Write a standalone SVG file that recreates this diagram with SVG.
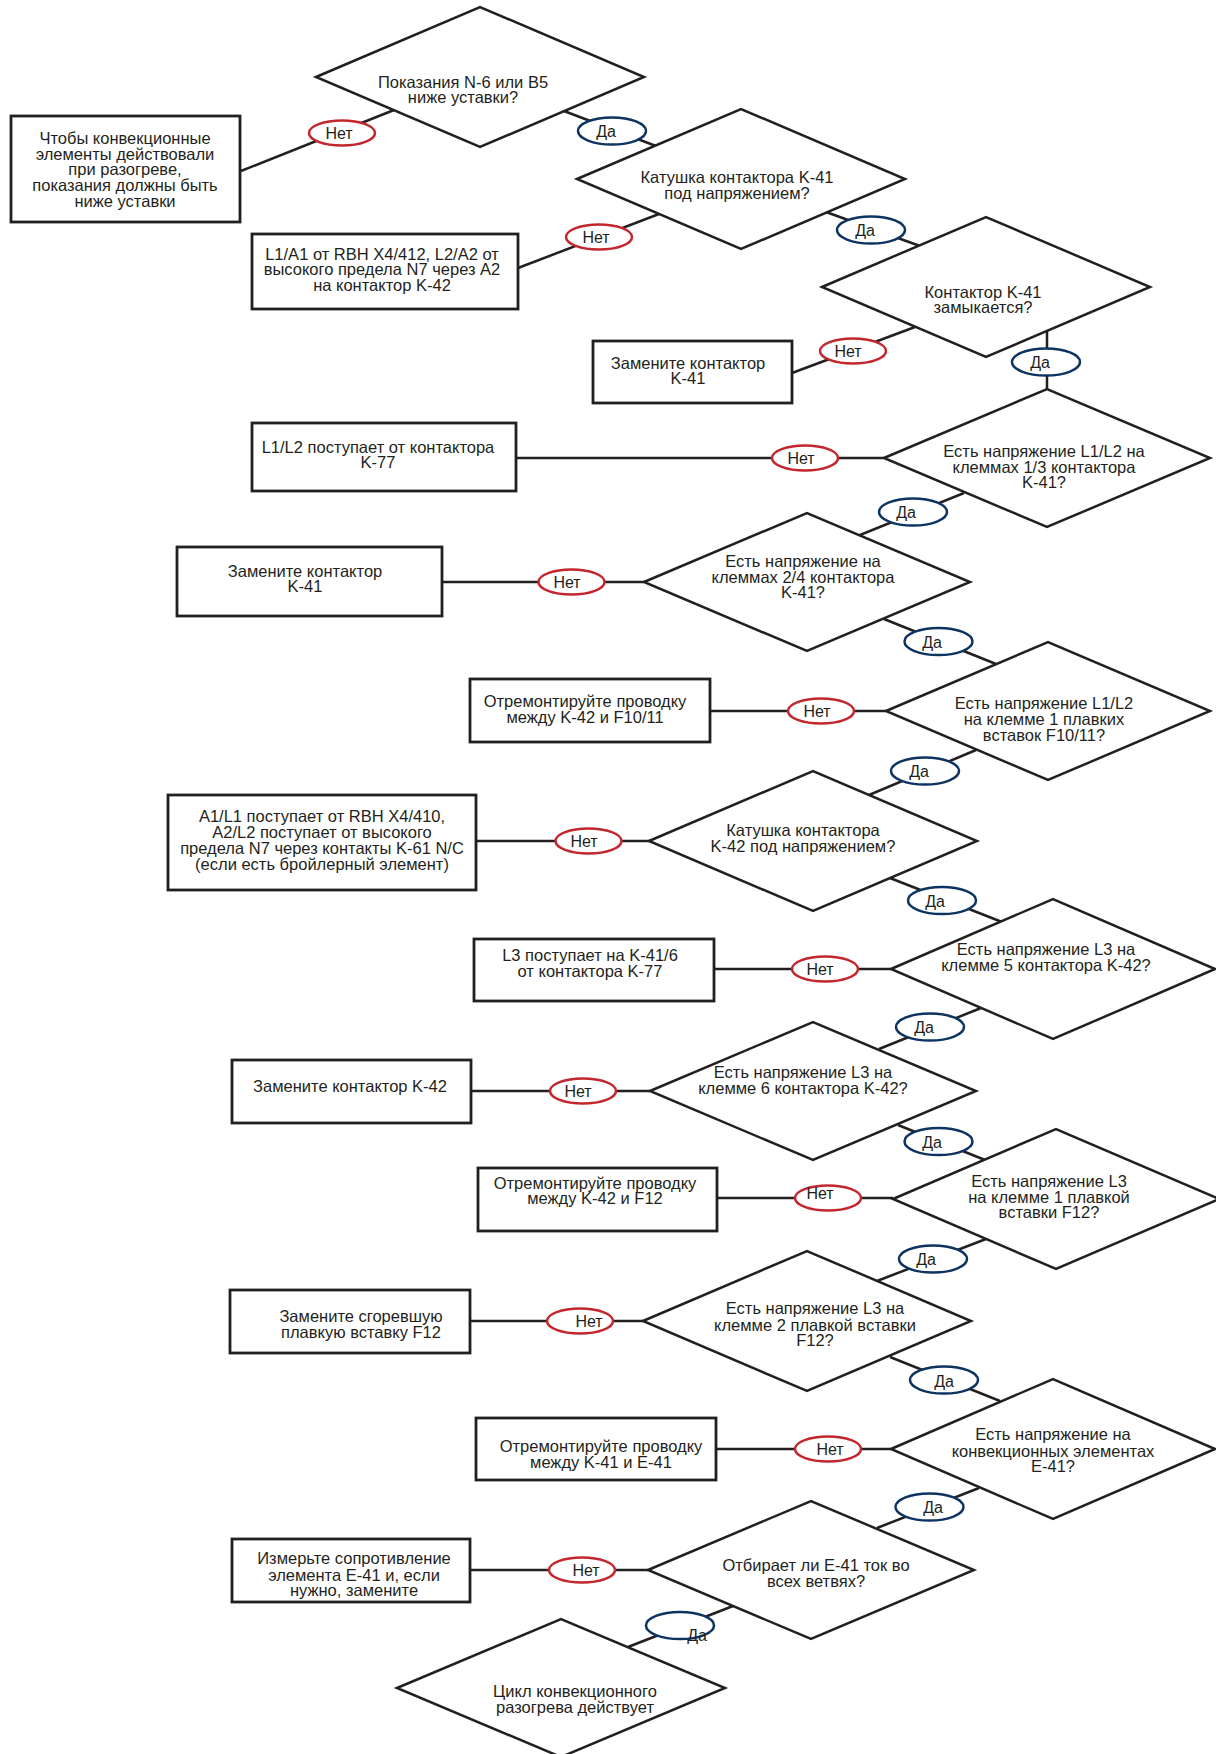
<svg xmlns="http://www.w3.org/2000/svg" width="1216" height="1754" viewBox="0 0 1216 1754">
<style>
.box{fill:#fff;stroke:#231f20;stroke-width:2.8}
.dia{fill:#fff;stroke:#231f20;stroke-width:2.5;stroke-linejoin:miter}
.ln{stroke:#231f20;stroke-width:2.5;fill:none}
.no{fill:#fff;stroke:#c4262e;stroke-width:2.5}
.yes{fill:#fff;stroke:#0d3461;stroke-width:2.5}
text{font-family:"Liberation Sans",Arial,sans-serif;font-size:16.5px;fill:#231f20;text-anchor:middle}
#labels text{font-size:16px}
</style>
<rect width="1216" height="1754" fill="#fff"/>
<g id="connectors">
<line class="ln" x1="241" y1="171" x2="394" y2="110"/>
<line class="ln" x1="564" y1="111" x2="656" y2="146"/>
<line class="ln" x1="659" y1="214" x2="518" y2="268"/>
<line class="ln" x1="826" y1="212" x2="920" y2="246"/>
<line class="ln" x1="915" y1="327" x2="792" y2="373"/>
<line class="ln" x1="1047" y1="331" x2="1047" y2="389"/>
<line class="ln" x1="516" y1="458" x2="884" y2="458"/>
<line class="ln" x1="964" y1="493" x2="860" y2="535"/>
<line class="ln" x1="442" y1="582" x2="644" y2="582"/>
<line class="ln" x1="884" y1="619" x2="996" y2="664"/>
<line class="ln" x1="710" y1="711" x2="886" y2="711"/>
<line class="ln" x1="976" y1="750" x2="869" y2="795"/>
<line class="ln" x1="476" y1="841" x2="650" y2="841"/>
<line class="ln" x1="890" y1="878" x2="1002" y2="922"/>
<line class="ln" x1="714" y1="969" x2="891" y2="969"/>
<line class="ln" x1="981" y1="1008" x2="879" y2="1049"/>
<line class="ln" x1="471" y1="1091" x2="650" y2="1091"/>
<line class="ln" x1="898" y1="1125" x2="985" y2="1160"/>
<line class="ln" x1="717" y1="1198" x2="893" y2="1198"/>
<line class="ln" x1="986" y1="1239" x2="877" y2="1281"/>
<line class="ln" x1="470" y1="1321" x2="644" y2="1321"/>
<line class="ln" x1="890" y1="1357" x2="1000" y2="1401"/>
<line class="ln" x1="716" y1="1449" x2="891" y2="1449"/>
<line class="ln" x1="979" y1="1488" x2="877" y2="1528"/>
<line class="ln" x1="470" y1="1570" x2="648" y2="1570"/>
<line class="ln" x1="733" y1="1606" x2="628" y2="1647"/>
<g id="labels">
<ellipse class="no" cx="342" cy="133" rx="33" ry="12.5"/><text x="339" y="138.5">Нет</text>
<ellipse class="yes" cx="612" cy="131" rx="34" ry="13.5"/><text x="606" y="137">Да</text>
<ellipse class="no" cx="599" cy="237" rx="33" ry="12.5"/><text x="596" y="242.5">Нет</text>
<ellipse class="yes" cx="871" cy="230" rx="34" ry="13.5"/><text x="865" y="236">Да</text>
<ellipse class="no" cx="853" cy="351" rx="33" ry="12.5"/><text x="848" y="356.5">Нет</text>
<ellipse class="yes" cx="1046" cy="362" rx="34" ry="13.5"/><text x="1040" y="368">Да</text>
<ellipse class="no" cx="805" cy="458" rx="33" ry="12.5"/><text x="801" y="463.5">Нет</text>
<ellipse class="yes" cx="913" cy="512" rx="34" ry="13.5"/><text x="906" y="518">Да</text>
<ellipse class="no" cx="571.5" cy="582" rx="33" ry="12.5"/><text x="567" y="587.5">Нет</text>
<ellipse class="yes" cx="938.5" cy="641.5" rx="34" ry="13.5"/><text x="932" y="647.5">Да</text>
<ellipse class="no" cx="821" cy="711" rx="33" ry="12.5"/><text x="817" y="716.5">Нет</text>
<ellipse class="yes" cx="925" cy="771" rx="34" ry="13.5"/><text x="919" y="777">Да</text>
<ellipse class="no" cx="588.5" cy="841" rx="33" ry="12.5"/><text x="584" y="846.5">Нет</text>
<ellipse class="yes" cx="942" cy="900.5" rx="34" ry="13.5"/><text x="935" y="906.5">Да</text>
<ellipse class="no" cx="825" cy="969" rx="33" ry="12.5"/><text x="820" y="974.5">Нет</text>
<ellipse class="yes" cx="930" cy="1027" rx="34" ry="13.5"/><text x="924" y="1033">Да</text>
<ellipse class="no" cx="583" cy="1091" rx="33" ry="12.5"/><text x="578" y="1096.5">Нет</text>
<ellipse class="yes" cx="938.5" cy="1141.5" rx="34" ry="13.5"/><text x="932" y="1147.5">Да</text>
<ellipse class="no" cx="828" cy="1198" rx="33" ry="12.5"/><text x="820" y="1199">Нет</text>
<ellipse class="yes" cx="933" cy="1259" rx="34" ry="13.5"/><text x="926" y="1265">Да</text>
<ellipse class="no" cx="580" cy="1321" rx="33" ry="12.5"/><text x="589" y="1327">Нет</text>
<ellipse class="yes" cx="944" cy="1380" rx="34" ry="13.5"/><text x="944" y="1387">Да</text>
<ellipse class="no" cx="828" cy="1449" rx="33" ry="12.5"/><text x="830" y="1455">Нет</text>
<ellipse class="yes" cx="929.5" cy="1507" rx="34" ry="13.5"/><text x="933" y="1513">Да</text>
<ellipse class="no" cx="582" cy="1570" rx="33" ry="12.5"/><text x="586" y="1576">Нет</text>
<ellipse class="yes" cx="680" cy="1625.5" rx="34" ry="13.5"/><text x="697" y="1641">Да</text>
</g>
</g>
<g id="d1"><polygon class="dia" points="316,77 480,7 644,77 480,147"/><text x="463" y="88">Показания N-6 или B5</text><text x="463" y="103">ниже уставки?</text></g>
<g id="b1"><rect class="box" x="11" y="116" width="229" height="106"/><text x="125" y="144">Чтобы конвекционные</text><text x="125" y="160">элементы действовали</text><text x="125" y="175">при разогреве,</text><text x="125" y="191">показания должны быть</text><text x="125" y="207">ниже уставки</text></g>
<g id="d2"><polygon class="dia" points="577,179 741,109 905,179 741,249"/><text x="737" y="183">Катушка контактора K-41</text><text x="737" y="199">под напряжением?</text></g>
<g id="b2"><rect class="box" x="252" y="234" width="266" height="75"/><text x="382" y="260">L1/A1 от RBH X4/412, L2/A2 от</text><text x="382" y="275">высокого предела N7 через A2</text><text x="382" y="291">на контактор K-42</text></g>
<g id="d3"><polygon class="dia" points="822,287 986,217 1150,287 986,357"/><text x="983" y="298">Контактор K-41</text><text x="983" y="313">замыкается?</text></g>
<g id="b3"><rect class="box" x="593" y="341" width="199" height="62"/><text x="688" y="369">Замените контактор</text><text x="688" y="384">K-41</text></g>
<g id="b4"><rect class="box" x="252" y="423" width="264" height="68"/><text x="378" y="453">L1/L2 поступает от контактора</text><text x="378" y="468">K-77</text></g>
<g id="d4"><polygon class="dia" points="884,458 1047,389 1210,458 1047,527"/><text x="1044" y="457">Есть напряжение L1/L2 на</text><text x="1044" y="473">клеммах 1/3 контактора</text><text x="1044" y="488">K-41?</text></g>
<g id="b5"><rect class="box" x="177" y="547" width="265" height="69"/><text x="305" y="577">Замените контактор</text><text x="305" y="592">K-41</text></g>
<g id="d5"><polygon class="dia" points="644,582 807,513 970,582 807,651"/><text x="803" y="567">Есть напряжение на</text><text x="803" y="583">клеммах 2/4 контактора</text><text x="803" y="598">K-41?</text></g>
<g id="b6"><rect class="box" x="470" y="679" width="240" height="63"/><text x="585" y="707">Отремонтируйте проводку</text><text x="585" y="723">между K-42 и F10/11</text></g>
<g id="d6"><polygon class="dia" points="886,711 1048,642 1210,711 1048,780"/><text x="1044" y="709">Есть напряжение L1/L2</text><text x="1044" y="725">на клемме 1 плавких</text><text x="1044" y="741">вставок F10/11?</text></g>
<g id="b7"><rect class="box" x="168" y="795" width="308" height="95"/><text x="322" y="822">A1/L1 поступает от RBH X4/410,</text><text x="322" y="838">A2/L2 поступает от высокого</text><text x="322" y="854">предела N7 через контакты K-61 N/C</text><text x="322" y="870">(если есть бройлерный элемент)</text></g>
<g id="d7"><polygon class="dia" points="649,841 813,771 977,841 813,911"/><text x="803" y="836">Катушка контактора</text><text x="803" y="852">K-42 под напряжением?</text></g>
<g id="b8"><rect class="box" x="474" y="939" width="240" height="62"/><text x="590" y="961">L3 поступает на K-41/6</text><text x="590" y="977">от контактора K-77</text></g>
<g id="d8"><polygon class="dia" points="891,969 1053,899 1215,969 1053,1039"/><text x="1046" y="955">Есть напряжение L3 на</text><text x="1046" y="971">клемме 5 контактора K-42?</text></g>
<g id="b9"><rect class="box" x="232" y="1060" width="239" height="63"/><text x="350" y="1092">Замените контактор K-42</text></g>
<g id="d9"><polygon class="dia" points="650,1091 813,1022 976,1091 813,1160"/><text x="803" y="1078">Есть напряжение L3 на</text><text x="803" y="1094">клемме 6 контактора K-42?</text></g>
<g id="b10"><rect class="box" x="478" y="1168" width="239" height="63"/><text x="595" y="1189">Отремонтируйте проводку</text><text x="595" y="1204">между K-42 и F12</text></g>
<g id="d10"><polygon class="dia" points="893,1199 1056,1129 1219,1199 1056,1269"/><text x="1049" y="1187">Есть напряжение L3</text><text x="1049" y="1203">на клемме 1 плавкой</text><text x="1049" y="1218">вставки F12?</text></g>
<g id="b11"><rect class="box" x="230" y="1290" width="240" height="63"/><text x="361" y="1322">Замените сгоревшую</text><text x="361" y="1338">плавкую вставку F12</text></g>
<g id="d11"><polygon class="dia" points="643,1321 807,1251 971,1321 807,1391"/><text x="815" y="1314">Есть напряжение L3 на</text><text x="815" y="1331">клемме 2 плавкой вставки</text><text x="815" y="1346">F12?</text></g>
<g id="b12"><rect class="box" x="476" y="1418" width="240" height="62"/><text x="601" y="1452">Отремонтируйте проводку</text><text x="601" y="1468">между K-41 и E-41</text></g>
<g id="d12"><polygon class="dia" points="891,1449 1053,1379 1215,1449 1053,1519"/><text x="1053" y="1440">Есть напряжение на</text><text x="1053" y="1457">конвекционных элементах</text><text x="1053" y="1472">E-41?</text></g>
<g id="b13"><rect class="box" x="232" y="1539" width="238" height="63"/><text x="354" y="1564">Измерьте сопротивление</text><text x="354" y="1581">элемента E-41 и, если</text><text x="354" y="1596">нужно, замените</text></g>
<g id="d13"><polygon class="dia" points="648,1570 811,1501 974,1570 811,1639"/><text x="816" y="1571">Отбирает ли E-41 ток во</text><text x="816" y="1587">всех ветвях?</text></g>
<g id="d14"><polygon class="dia" points="397,1688 561,1619 725,1688 561,1757"/><text x="575" y="1697">Цикл конвекционного</text><text x="575" y="1713">разогрева действует</text></g>
</svg>
